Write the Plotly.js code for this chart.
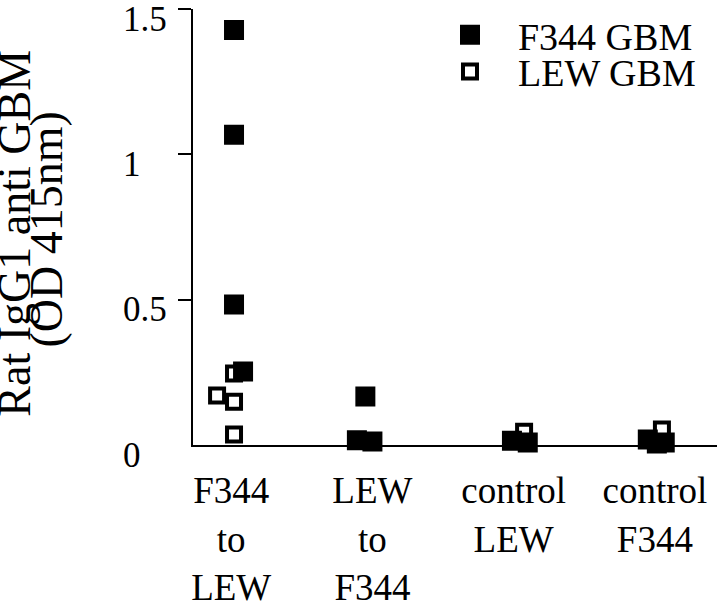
<!DOCTYPE html>
<html><head><meta charset="utf-8">
<script src="https://cdn.plot.ly/plotly-3.0.1.min.js"></script>
<style>html,body{margin:0;padding:0;background:#fff}#chart{width:720px;height:606px}</style>
</head><body><div id="chart"></div>
<script>
// categories (x axis)
const categories = ['F344<br>to<br>LEW', 'LEW<br>to<br>F344', 'control<br>LEW', 'control<br>F344'];
const catIndex = [0, 1, 2, 3];

// F344 GBM (filled squares): category index, small horizontal jitter, OD value
const f344Cat    = [0, 0, 0, 0, 1, 1, 1, 2, 2, 2, 3, 3, 3];
const f344Jitter = [0.02, 0.02, 0.02, 0.084, -0.05, -0.11, 0.0, -0.012, 0.10, 0.045, -0.05, 0.07, 0.014];
const f344Values = [1.428, 1.067, 0.483, 0.253, 0.167, 0.016, 0.012, 0.015, 0.009, -0.002, 0.019, 0.009, 0.005];

// LEW GBM (open squares)
const lewCat    = [0, 0, 0, 0, 1, 1, 2, 3];
const lewJitter = [0.02, -0.10, 0.02, 0.02, -0.09, 0.02, 0.074, 0.05];
const lewValues = [0.246, 0.170, 0.149, 0.036, -0.005, -0.009, 0.046, 0.053];

// y tick labels
const yTickVals = [0, 0.5, 1, 1.5];
const yTickText = ['0', '0.5', '1', '1.5'];

const yTitle1 = 'Rat IgG1 anti GBM';
const yTitle2 = '(OD 415nm)';

const FONT = 'Liberation Serif, Times New Roman, serif';

const traceLew = {
  type: 'scatter', mode: 'markers', name: 'LEW GBM', legend: 'legend2',
  x: lewCat.map((c, i) => c + lewJitter[i]), y: lewValues,
  cliponaxis: false,
  marker: {symbol: 'square-open', size: 14, color: '#000', line: {color: '#000', width: 4}}
};
const traceF344 = {
  type: 'scatter', mode: 'markers', name: 'F344 GBM', legend: 'legend',
  x: f344Cat.map((c, i) => c + f344Jitter[i]), y: f344Values,
  cliponaxis: false,
  marker: {symbol: 'square', size: 16, color: '#000', line: {color: '#000', width: 4}}
};

const annotations = yTickVals.map((v, i) => ({
  xref: 'paper', yref: 'y', x: -0.137, y: v, xanchor: 'left', yanchor: 'middle',
  yshift: -10, showarrow: false, text: yTickText[i], font: {family: FONT, size: 35, color: '#000'}
}));
annotations.push({
  xref: 'paper', yref: 'paper', x: -0.3397, y: 0.487, xanchor: 'center', yanchor: 'middle',
  textangle: -90, showarrow: false, text: yTitle1, font: {family: FONT, size: 46, color: '#000'}
});
annotations.push({
  xref: 'paper', yref: 'paper', x: -0.2787, y: 0.494, xanchor: 'center', yanchor: 'middle',
  textangle: -90, showarrow: false, text: yTitle2, font: {family: FONT, size: 46, color: '#000'}
});

const legendBase = {
  xanchor: 'left', yanchor: 'middle', itemwidth: 86, bgcolor: 'rgba(0,0,0,0)', borderwidth: 0,
  font: {family: FONT, size: 38, color: '#000'}
};

const layout = {
  width: 720, height: 606,
  margin: {l: 193, r: 3, t: 9, b: 161},
  paper_bgcolor: '#fff', plot_bgcolor: '#fff',
  showlegend: true,
  legend: Object.assign({x: 0.437, y: 0.94}, legendBase),
  legend2: Object.assign({x: 0.437, y: 0.856}, legendBase),
  xaxis: {
    range: [-0.2705, 3.44], showline: true, linewidth: 2, linecolor: '#000', layer: 'below traces',
    ticks: '', tickvals: catIndex, ticktext: categories, ticklabelstandoff: 12,
    tickfont: {family: FONT, size: 37, color: '#000'}, showgrid: false, zeroline: false
  },
  yaxis: {
    range: [0, 1.5], showline: true, linewidth: 2, linecolor: '#000', layer: 'below traces',
    ticks: 'outside', ticklen: 13, tickwidth: 2, tickcolor: '#000',
    tickvals: [0.5, 1, 1.5], showticklabels: false, showgrid: false, zeroline: false
  },
  annotations: annotations
};

Plotly.newPlot('chart', [traceLew, traceF344], layout, {displayModeBar: false, staticPlot: true});
</script>
</body></html>
